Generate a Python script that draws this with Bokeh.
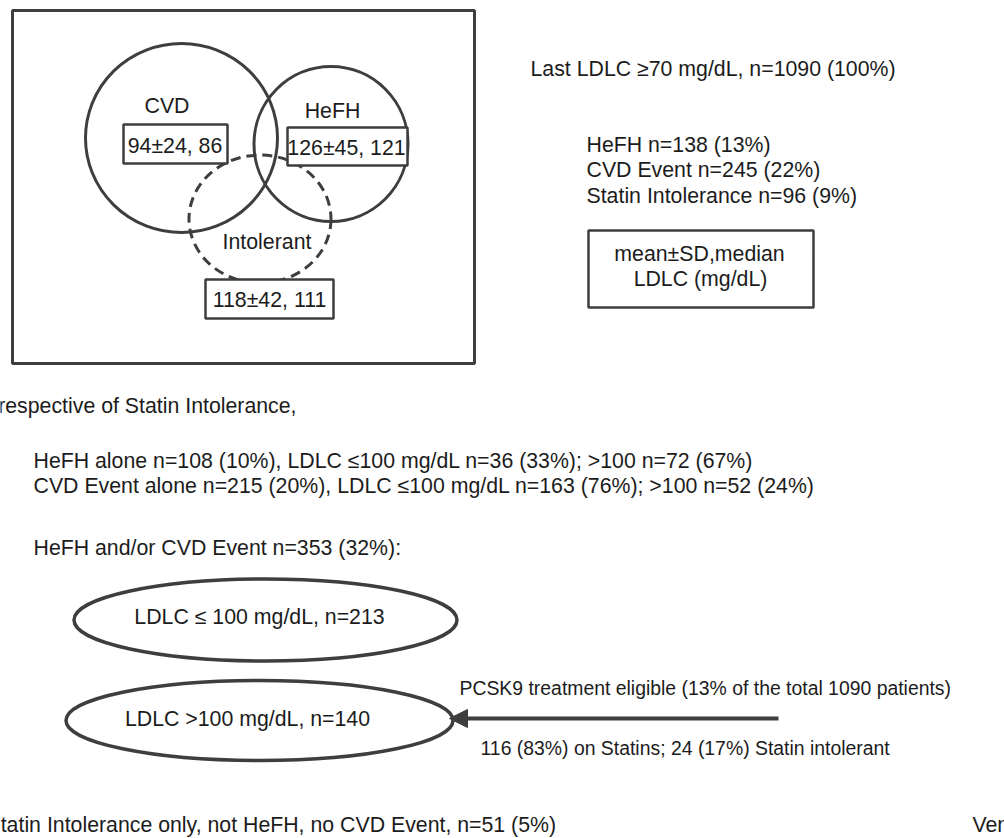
from bokeh.plotting import figure
from bokeh.models import Range1d, Arrow, NormalHead, ColumnDataSource
from bokeh.core.properties import value
from bokeh.embed import file_html
from bokeh.resources import INLINE

# ---- data ----
groups = ["CVD", "HeFH", "Intolerant"]
ldl_mean = [94, 126, 118]
ldl_sd = [24, 45, 42]
ldl_median = [86, 121, 111]

total_n = 1090
subset_labels = ["HeFH", "CVD Event", "Statin Intolerance"]
subset_n = [138, 245, 96]
subset_pct = [13, 22, 9]

alone_labels = ["HeFH alone", "CVD Event alone"]
alone_n = [108, 215]
alone_pct = [10, 20]
alone_low_n = [36, 163]
alone_low_pct = [33, 76]
alone_high_n = [72, 52]
alone_high_pct = [67, 24]

combined_n = 353
combined_pct = 32
combined_low_n = 213
combined_high_n = 140
pcsk9_pct = 13
on_statin_n, on_statin_pct = 116, 83
intol_n, intol_pct = 24, 17
intol_only_n, intol_only_pct = 51, 5

FONT = value("Liberation Sans")
FS = "21.3px"
TXT = "#1c1c1c"
LINE = "#3e3e3e"
W, H = 1004, 838
DY = -8  # compensates for svg alphabetic baseline placement


def ty(vals):
    return [v + DY for v in vals]


p = figure(width=W, height=H, x_range=Range1d(0, W), y_range=Range1d(H, 0),
           output_backend="svg", toolbar_location=None, min_border=0,
           x_axis_type=None, y_axis_type=None)
p.grid.visible = False
p.outline_line_color = None
p.background_fill_color = "white"
p.border_fill_color = "white"

# outer frame of Venn panel
p.quad(left=[12], right=[474], top=[10], bottom=[363], fill_color=None,
       line_color=LINE, line_width=3)

# Venn circles
p.ellipse(x=[181, 330.5], y=[137.5, 143.5], width=[192, 154], height=[189, 155],
          fill_color=None, line_color=LINE, line_width=3)
p.ellipse(x=[259.5], y=[218.5], width=[142], height=[128], fill_color=None,
          line_color=LINE, line_width=3, line_dash="10 6")

# stat boxes
stat_text = [f"{m}\u00b1{s}, {md}" for m, s, md in zip(ldl_mean, ldl_sd, ldl_median)]
p.quad(left=[123, 287, 205], right=[227, 407, 333], top=[124, 127, 279],
       bottom=[163, 165, 318], fill_color="white", line_color=LINE, line_width=2.5)
p.text(x=[174.5, 346, 269], y=ty([153, 155.5, 307]), text=stat_text, text_font=FONT,
       text_font_size=FS, text_color=TXT, text_align="center",
       text_baseline="alphabetic")
p.text(x=[166.5, 332, 266.5], y=ty([113, 118, 249]), text=groups, text_font=FONT,
       text_font_size=FS, text_color=TXT, text_align="center",
       text_baseline="alphabetic")

# legend box
p.quad(left=[588], right=[813], top=[230], bottom=[307], fill_color="white",
       line_color=LINE, line_width=2.5)
p.text(x=[699, 700], y=ty([261, 286]), text=["mean\u00b1SD,median", "LDLC (mg/dL)"],
       text_font=FONT, text_font_size=FS, text_color=TXT, text_align="center",
       text_baseline="alphabetic")

# ellipses for LDLC split
p.ellipse(x=[265, 259], y=[619.5, 720], width=[383, 387], height=[82, 80],
          fill_color=None, line_color=LINE, line_width=3.5)
p.text(x=[259, 247], y=ty([624, 726]),
       text=[f"LDLC \u2264 100 mg/dL, n={combined_low_n}", f"LDLC >100 mg/dL, n={combined_high_n}"],
       text_font=FONT, text_font_size=FS, text_color=TXT, text_align="center",
       text_baseline="alphabetic")

# arrow
p.add_layout(Arrow(end=NormalHead(size=18, fill_color=LINE, line_color=LINE, line_width=1),
                   x_start=778, y_start=718, x_end=449, y_end=718,
                   line_color=LINE, line_width=4))

# left-aligned texts
left_src = ColumnDataSource(dict(
    x=[530, 586, 586, 586, 33, 33, 33, -14, 972],
    y=ty([76, 152, 177.5, 203, 468.5, 493, 555, 832, 832]),
    t=[f"Last LDLC \u226570 mg/dL, n={total_n} (100%)"]
      + [f"{l} n={n} ({pc}%)" for l, n, pc in zip(subset_labels, subset_n, subset_pct)]
      + [f"{l} n={n} ({pc}%), LDLC \u2264100 mg/dL n={ln} ({lp}%); >100 n={hn} ({hp}%)"
         for l, n, pc, ln, lp, hn, hp in zip(alone_labels, alone_n, alone_pct, alone_low_n,
                                             alone_low_pct, alone_high_n, alone_high_pct)]
      + [f"HeFH and/or CVD Event n={combined_n} ({combined_pct}%):",
         f"Statin Intolerance only, not HeFH, no CVD Event, n={intol_only_n} ({intol_only_pct}%)",
         "Venn diagram"],
))
p.text(x="x", y="y", text="t", source=left_src, text_font=FONT, text_font_size=FS,
       text_color=TXT, text_align="left", text_baseline="alphabetic")

# PCSK9 annotation (slightly smaller type)
p.text(x=[459, 480], y=ty([695, 755]),
       text=[f"PCSK9 treatment eligible ({pcsk9_pct}% of the total {total_n} patients)",
             f"{on_statin_n} ({on_statin_pct}%) on Statins; {intol_n} ({intol_pct}%) Statin intolerant"],
       text_font=FONT, text_font_size="19.4px", text_color=TXT, text_align="left",
       text_baseline="alphabetic")

p.text(x=[296], y=ty([413.5]), text=["Irrespective of Statin Intolerance,"], text_font=FONT,
       text_font_size=FS, text_color=TXT, text_align="right", text_baseline="alphabetic")

open("out.html", "w").write(file_html(p, INLINE))
